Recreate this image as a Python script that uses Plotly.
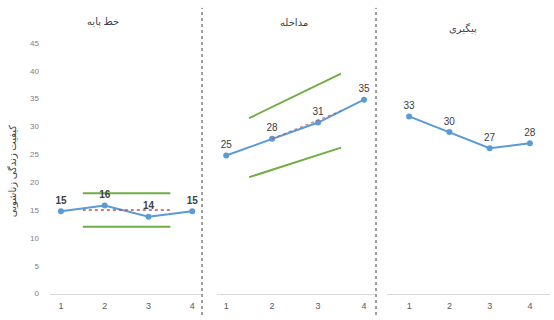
import plotly.graph_objects as go

sessions = [1, 2, 3, 4]
phase_titles = ["خط پایه", "مداخله", "پیگیری"]
y_title = "کیفیت زندگی زناشویی"

baseline_vals = [14.8, 15.8, 13.8, 14.8]
baseline_labels = ["15", "16", "14", "15"]
interv_vals = [24.8, 27.8, 30.7, 34.8]
interv_labels = ["25", "28", "31", "35"]
follow_vals = [31.8, 29.0, 26.1, 27.0]
follow_labels = ["33", "30", "27", "28"]

band_x = [1.5, 3.5]
base_trend = [15, 15]
base_upper = [18, 18]
base_lower = [12, 12]
int_trend_x = [2, 3.5]
int_trend = [27.8, 32.8]
int_upper = [31.5, 39.5]
int_lower = [20.9, 26.2]

y_ticks = [0, 5, 10, 15, 20, 25, 30, 35, 40, 45]

W, H = 554, 320
BLUE = "#5B9BD5"
GREEN = "#70AD47"
RED = "#C0504D"
LBL = "#404040"

fig = go.Figure()

y_dom = [(H - 298) / H, (H - 40) / H]

panels = [
    ("x", "y", [50 / W, 201 / W], [0.75, 4.2]),
    ("x2", "y2", [217 / W, 375 / W], [0.8, 4.24]),
    ("x3", "y3", [387 / W, 550 / W], [0.45, 4.5]),
]

series = [
    (baseline_vals, baseline_labels, True),
    (interv_vals, interv_labels, False),
    (follow_vals, follow_labels, False),
]

# trend bands first (under the data line)
fig.add_trace(go.Scatter(x=band_x, y=base_upper, xaxis="x", yaxis="y", mode="lines",
                         line=dict(color=GREEN, width=2), showlegend=False))
fig.add_trace(go.Scatter(x=band_x, y=base_lower, xaxis="x", yaxis="y", mode="lines",
                         line=dict(color=GREEN, width=2), showlegend=False))
fig.add_trace(go.Scatter(x=band_x, y=int_upper, xaxis="x2", yaxis="y2", mode="lines",
                         line=dict(color=GREEN, width=2), showlegend=False))
fig.add_trace(go.Scatter(x=band_x, y=int_lower, xaxis="x2", yaxis="y2", mode="lines",
                         line=dict(color=GREEN, width=2), showlegend=False))

for i, ((xa, ya, dom, rng), (vals, labs, bold)) in enumerate(zip(panels, series)):
    fig.add_trace(go.Scatter(
        x=sessions, y=vals, xaxis=xa, yaxis=ya,
        mode="lines+markers+text",
        line=dict(color=BLUE, width=2),
        marker=dict(color=BLUE, size=6),
        text=[f"<b>{t}</b>" if bold else t for t in labs],
        textposition="top center",
        textfont=dict(family="Liberation Sans, Arial", size=10, color=LBL),
        showlegend=False, cliponaxis=False,
    ))

fig.add_trace(go.Scatter(x=band_x, y=base_trend, xaxis="x", yaxis="y", mode="lines",
                         line=dict(color=RED, width=1.6, dash="dot"), showlegend=False))
fig.add_trace(go.Scatter(x=int_trend_x, y=int_trend, xaxis="x2", yaxis="y2", mode="lines",
                         line=dict(color=RED, width=1.3, dash="dot"), opacity=0.7,
                         showlegend=False))

layout = dict(
    width=W, height=H, margin=dict(l=0, r=0, t=0, b=0),
    paper_bgcolor="white", plot_bgcolor="white",
    font=dict(family="Liberation Sans, Arial", color="#595959"),
)
for i, (xa, ya, dom, rng) in enumerate(panels):
    xk = "xaxis" if i == 0 else f"xaxis{i+1}"
    yk = "yaxis" if i == 0 else f"yaxis{i+1}"
    layout[xk] = dict(domain=dom, range=rng, anchor=ya, tickvals=sessions,
                      showgrid=False, zeroline=False, showline=True, linecolor="#D9D9D9",
                      linewidth=1, ticks="", tickfont=dict(size=9, color="#595959"),
                      ticklabelstandoff=4)
    layout[yk] = dict(domain=y_dom, range=[0, 45], anchor=xa, tickvals=y_ticks,
                      showgrid=False, zeroline=False, showline=False,
                      showticklabels=(i == 0), ticks="",
                      tickfont=dict(size=8, color="#808080"), ticklabelstandoff=10)
fig.update_layout(**layout)

# panel titles
title_x = [103, 294, 463]
title_y = [18, 19, 25]
for t, tx, ty in zip(phase_titles, title_x, title_y):
    fig.add_annotation(text=t, x=tx / W, y=1 - ty / H, xref="paper", yref="paper",
                       xanchor="center", yanchor="middle",
                       showarrow=False, font=dict(family="Noto Sans, DejaVu Sans", size=10, color="#404040"))

fig.add_annotation(text=y_title, x=12 / W, y=1 - 172 / H, xref="paper", yref="paper",
                   xanchor="center", yanchor="middle",
                   textangle=-90, showarrow=False,
                   font=dict(family="Noto Sans, DejaVu Sans", size=10, color="#404040"))

# phase dividers
for dx in [202, 376]:
    fig.add_shape(type="line", x0=dx / W, x1=dx / W, y0=0, y1=1 - 4 / H,
                  xref="paper", yref="paper", line=dict(color="#404040", width=1, dash="dot"))

fig.write_html("out.html")
